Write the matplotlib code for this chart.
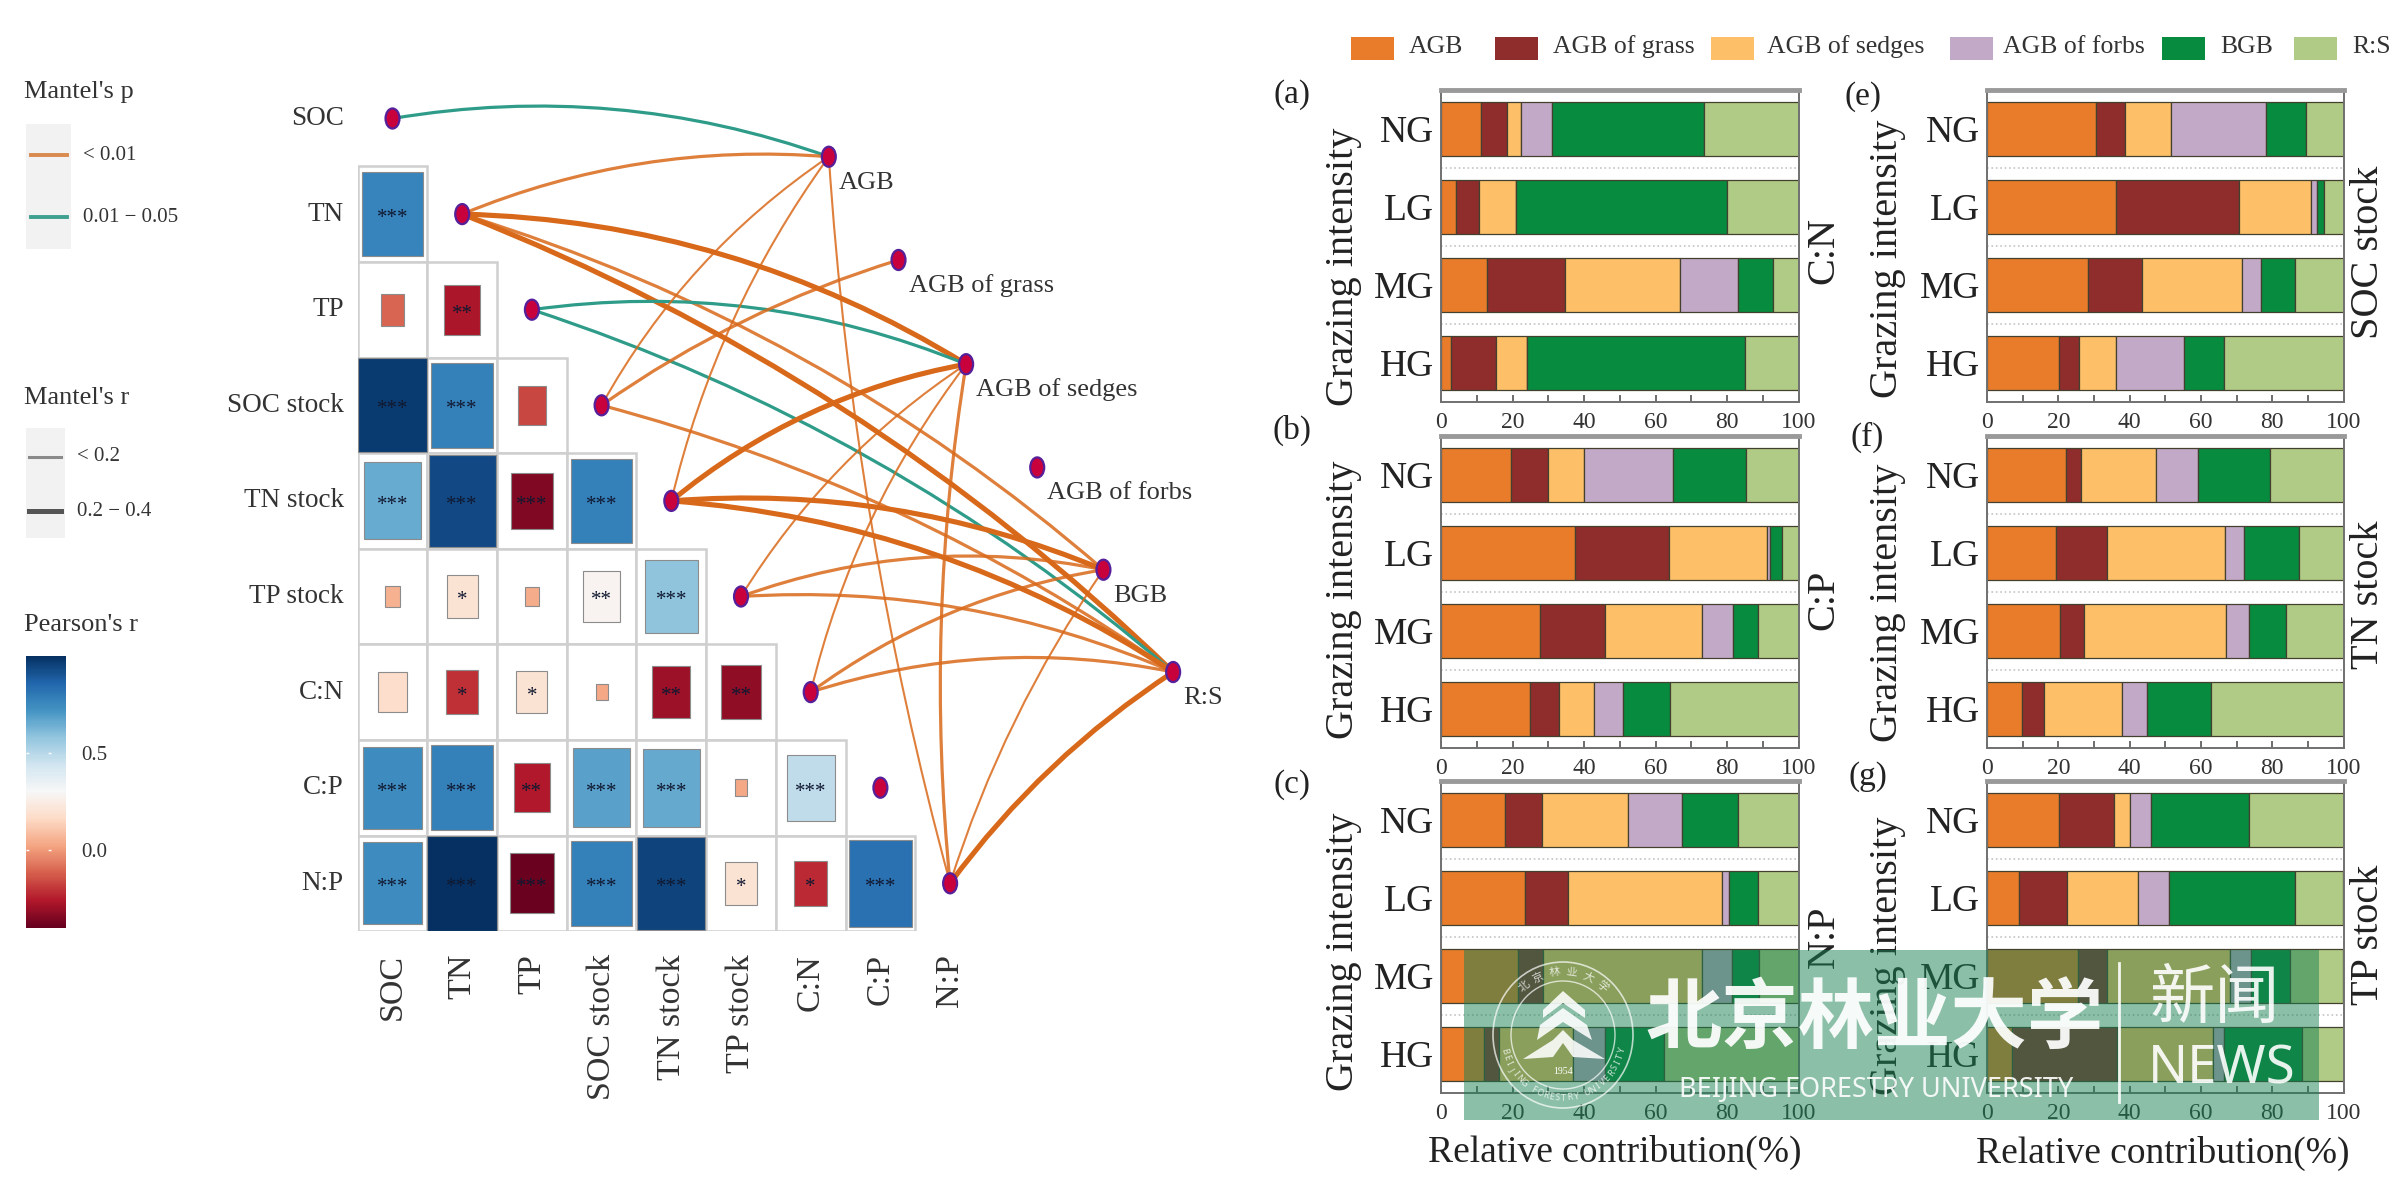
import numpy as np
import matplotlib
matplotlib.use('Agg')
import matplotlib.pyplot as plt
from matplotlib.cm import ScalarMappable
from matplotlib.colors import Normalize
from matplotlib.patches import Ellipse, PathPatch, Polygon, Rectangle
from matplotlib.path import Path

plt.rcParams['font.family'] = ['Liberation Serif', 'DejaVu Serif']

W, H = 2400, 1201

# correlation matrix (lower triangle, rows start at TN)
soil_vars = ['SOC', 'TN', 'TP', 'SOC stock', 'TN stock', 'TP stock', 'C:N', 'C:P', 'N:P']
pearson_r = [
    [0.77],
    [-0.11, -0.27],
    [0.97, 0.78, -0.17],
    [0.65, 0.93, -0.35, 0.78],
    [0.05, 0.20, 0.04, 0.28, 0.58],
    [0.17, -0.21, 0.20, 0.03, -0.30, -0.32],
    [0.74, 0.78, -0.26, 0.68, 0.66, 0.03, 0.48],
    [0.74, 1.00, -0.39, 0.78, 0.95, 0.20, -0.22, 0.82],
]
stars = [
    ['***'],
    ['', '**'],
    ['***', '***', ''],
    ['***', '***', '***', '***'],
    ['', '*', '', '**', '***'],
    ['', '*', '*', '', '**', '**'],
    ['***', '***', '**', '***', '***', '', '***'],
    ['***', '***', '***', '***', '***', '*', '*', '***'],
]

# mantel links: soil var, biomass var, p class, r class, bend
biomass_vars = ['AGB', 'AGB of grass', 'AGB of sedges', 'AGB of forbs', 'BGB', 'R:S']
biomass_x = [6.26, 7.26, 8.23, 9.25, 10.2, 11.2]
biomass_y = [0.40, 1.48, 2.57, 3.65, 4.72, 5.79]
links = [
    ('SOC', 'AGB', 'b', 'mid', 0.13),
    ('TN', 'AGB', 'a', 'mid', 0.12),
    ('TN', 'AGB of sedges', 'a', 'thick', 0.135),
    ('TN', 'BGB', 'a', 'mid', 0.105),
    ('TN', 'R:S', 'a', 'thick', 0.10),
    ('TP', 'AGB of sedges', 'b', 'mid', 0.135),
    ('TP', 'R:S', 'b', 'mid', 0.10),
    ('SOC stock', 'AGB', 'a', 'thin', 0.12),
    ('SOC stock', 'AGB of grass', 'a', 'mid', 0.08),
    ('SOC stock', 'R:S', 'a', 'mid', 0.09),
    ('TN stock', 'AGB', 'a', 'thin', 0.10),
    ('TN stock', 'AGB of sedges', 'a', 'thick', 0.13),
    ('TN stock', 'BGB', 'a', 'thick', 0.12),
    ('TN stock', 'R:S', 'a', 'thick', 0.13),
    ('TP stock', 'AGB of sedges', 'a', 'thin', 0.11),
    ('TP stock', 'BGB', 'a', 'mid', 0.14),
    ('TP stock', 'R:S', 'a', 'mid', 0.12),
    ('C:N', 'AGB of sedges', 'a', 'thin', 0.105),
    ('C:N', 'BGB', 'a', 'mid', 0.12),
    ('C:N', 'R:S', 'a', 'mid', 0.13),
    ('N:P', 'AGB', 'a', 'thin', 0.05),
    ('N:P', 'AGB of sedges', 'a', 'mid', 0.065),
    ('N:P', 'BGB', 'a', 'thin', 0.075),
    ('N:P', 'R:S', 'a', 'thick', 0.09),
]

# stacked bars
groups = ['NG', 'LG', 'MG', 'HG']
parts = ['AGB', 'AGB of grass', 'AGB of sedges', 'AGB of forbs', 'BGB', 'R:S']
part_colors = ['#E87C2B', '#8F2D2D', '#FDBF68', '#C3A9C8', '#068B3F', '#B0CB85']
panel_a = [[11.2, 7.4, 3.8, 8.6, 42.7, 26.3], [4.1, 6.5, 10.3, 0, 59, 20.1],
           [13, 21.8, 32.1, 16.1, 10, 7], [2.7, 12.6, 8.7, 0, 60.9, 15.1]]
panel_b = [[19.7, 10.3, 10, 25, 20.3, 14.7], [37.5, 26.3, 27.3, 0.9, 3.4, 4.6],
           [27.7, 18.3, 26.9, 8.7, 7.2, 11.2], [25, 8.1, 9.8, 8, 13.1, 36]]
panel_c = [[17.8, 10.4, 24, 15.3, 15.7, 16.8], [23.6, 11.8, 43.3, 1.8, 8.3, 11.2],
           [21.4, 7.1, 44.6, 8.4, 7.5, 11], [12.1, 4, 20.9, 9, 16.3, 37.7]]
panel_e = [[30.7, 8.1, 12.7, 26.9, 11.2, 10.4], [36.3, 34.4, 20.2, 1.6, 2.1, 5.4],
           [28.4, 15.2, 28, 5.2, 9.7, 13.5], [20.1, 5.6, 10.6, 18.9, 11.2, 33.6]]
panel_f = [[22.2, 4.1, 21, 12, 20, 20.7], [19.3, 14.5, 33, 5.4, 15.4, 12.4],
           [20.5, 6.7, 39.8, 6.4, 10.4, 16.2], [9.8, 6.2, 21.8, 7, 18.1, 37.1]]
panel_g = [[20.1, 15.4, 4.5, 5.9, 27.6, 26.5], [8.9, 13.5, 19.9, 8.7, 35.3, 13.7],
           [25.4, 8.4, 34.5, 5.7, 10.9, 15.1], [6.9, 29.7, 26.8, 3.2, 21.7, 11.7]]


def px_axes(left, top, right, bottom, **kw):
    return fig.add_axes([left / W, 1 - bottom / H, (right - left) / W, (bottom - top) / H], **kw)


fig = plt.figure(figsize=(24, 12.01), dpi=100)

# ---- correlogram ----
sx, sy = 69.7, 95.6
ax = px_axes(392.5 - 0.5 * sx, 118.5 - sy, 392.5 + 12 * sx, 118.5 + 8.5 * sy)
ax.set_xlim(-0.5, 12)
ax.set_ylim(8.5, -1)
ax.axis('off')
cmap = plt.get_cmap('RdBu')
norm = Normalize(-0.4, 1.0)

for i, row in enumerate(pearson_r):
    r_row = i + 1
    for c, val in enumerate(row):
        ax.add_patch(Rectangle((c - 0.5, r_row - 0.5), 1, 1, fc='white', ec='#cfcfcf', lw=1.8, zorder=1))
        side = np.sqrt(abs(val))
        ax.add_patch(Rectangle((c - side / 2, r_row - side / 2), side, side, fc=cmap(norm(val)),
                               ec='#8c8c8c', lw=0.8, zorder=2))
        if stars[i][c]:
            ax.text(c, r_row + 0.045, stars[i][c], ha='center', va='center', fontsize=15,
                    color='#101830', zorder=3)

for i, name in enumerate(soil_vars):
    ax.text(-0.7, i, name, ha='right', va='center', fontsize=19.5, color='#333333')
    ax.text(i, 8.74, name, ha='center', va='top', rotation=90, fontsize=24.5, color='#333333')

p_colors = {'a': '#D9691A', 'b': '#2F9C8A'}
r_widths = {'thin': 1.5, 'mid': 2.3, 'thick': 3.7}
for soil, bio, p_cls, r_cls, bend in links:
    x0, y0 = soil_vars.index(soil), soil_vars.index(soil)
    b = biomass_vars.index(bio)
    x1, y1 = biomass_x[b], biomass_y[b]
    dx, dy = (x1 - x0) * sx, (y1 - y0) * sy
    cx = (x0 + x1) / 2 + bend * dy / sx
    cy = (y0 + y1) / 2 - bend * dx / sy
    path = Path([(x0, y0), (cx, cy), (x1, y1)], [Path.MOVETO, Path.CURVE3, Path.CURVE3])
    line_alpha = 0.85 if (p_cls == 'a' and r_cls != 'thick') else 1.0
    ax.add_patch(PathPatch(path, fc='none', ec=p_colors[p_cls], lw=r_widths[r_cls], zorder=4,
                           capstyle='round', alpha=line_alpha))

node_x = list(range(len(soil_vars))) + biomass_x
node_y = list(range(len(soil_vars))) + biomass_y
for x, y in zip(node_x, node_y):
    ax.add_patch(Ellipse((x, y), 0.2, 0.21, fc='#C8003C', ec='#55209A', lw=1.6, zorder=5))

for name, x, y in zip(biomass_vars, biomass_x, biomass_y):
    ax.text(x + 0.145, y + 0.27, name, ha='left', va='center', fontsize=19, color='#333333')

# ---- colour bar ----
cax = px_axes(26, 655.5, 66, 927.6)
cb = fig.colorbar(ScalarMappable(norm=norm, cmap=cmap), cax=cax)
cb.set_ticks([0.0, 0.5], labels=['0.0', '0.5'])
cb.outline.set_visible(False)
cb.ax.tick_params(length=0, labelsize=15, labelcolor='#333333', pad=11)
for v in [0.0, 0.5]:
    cax.plot([0, 1], [v, v], transform=cax.get_yaxis_transform(), color='white', lw=1, ls=(0, (2, 14)))

# ---- stacked bar panels ----
panel_boxes = [
    (panel_a, 1441, 90, 1798.5, 402),
    (panel_b, 1441, 436, 1798.5, 748),
    (panel_c, 1441, 781, 1798.5, 1093),
    (panel_e, 1987, 90, 2343.5, 402),
    (panel_f, 1987, 436, 2343.5, 748),
    (panel_g, 1987, 781, 2343.5, 1093),
]
for values, left, top, right, bottom in panel_boxes:
    pax = px_axes(left, top, right, bottom)
    vals = np.array(values)
    lefts = np.zeros(len(groups))
    for j, part in enumerate(parts):
        pax.barh(groups, vals[:, j], left=lefts, height=0.69, color=part_colors[j],
                 edgecolor='#44402f', linewidth=0.9)
        lefts += vals[:, j]
    pax.set_xlim(0, 100)
    pax.set_ylim(3.5, -0.5)
    for y in [0.5, 1.5, 2.5]:
        pax.axhline(y, color='#c4c4c4', lw=1.2, ls=':')
    pax.set_xticks(range(0, 101, 20))
    pax.set_xticks(range(10, 100, 20), minor=True)
    pax.tick_params(axis='x', which='both', direction='in', length=5, width=1.2, color='#555555',
                    labelsize=17, labelcolor='#333333', pad=7)
    pax.tick_params(axis='y', length=0, labelsize=27, labelcolor='#222222', pad=5)
    for side in pax.spines.values():
        side.set_color('#707070')
        side.set_linewidth(1.4)
    pax.spines['top'].set_color('#999999')
    pax.spines['top'].set_linewidth(3.5)

# ---- everything placed on the page ----
pg = px_axes(0, 0, W, H, zorder=5)
pg.set_xlim(0, W)
pg.set_ylim(H, 0)
pg.axis('off')
pg.patch.set_alpha(0)

# left legends
pg.text(24, 92, "Mantel's p", fontsize=19, va='center', color='#333333')
pg.add_patch(Rectangle((26, 123.5), 45, 125.5, fc='#f2f2f2', ec='none'))
pg.plot([31, 67], [155, 155], color='#D98A4E', lw=2.8)
pg.plot([31, 67], [217, 217], color='#3FA08F', lw=2.8)
pg.text(83, 155, '< 0.01', fontsize=15, va='center', color='#333333')
pg.text(83, 217, '0.01 − 0.05', fontsize=15, va='center', color='#333333')

pg.text(24, 398, "Mantel's r", fontsize=19, va='center', color='#333333')
pg.add_patch(Rectangle((26, 428), 39, 110, fc='#f2f2f2', ec='none'))
pg.plot([29, 61], [456.5, 456.5], color='#8a8a8a', lw=2.2)
pg.plot([29, 61], [511, 511], color='#555555', lw=3.6)
pg.text(77, 456.5, '< 0.2', fontsize=15, va='center', color='#333333')
pg.text(77, 511, '0.2 − 0.4', fontsize=15, va='center', color='#333333')

pg.text(24, 625, "Pearson's r", fontsize=19, va='center', color='#333333')

# top legend
key_lefts = [1351, 1495, 1711, 1950, 2162, 2294]
text_lefts = [1409, 1553, 1767, 2003, 2220, 2352]
for name, col, kx, tx in zip(parts, part_colors, key_lefts, text_lefts):
    pg.add_patch(Rectangle((kx, 37), 43, 23, fc=col, ec='none'))
    pg.text(tx, 47, name, fontsize=18.5, va='center', color='#333333')

# panel letters
letters = ['(a)', '(b)', '(c)', '(e)', '(f)', '(g)']
letter_x = [1292, 1292, 1292, 1863, 1867, 1868]
letter_y = [95, 430, 785, 97, 437, 777]
for s, x, y in zip(letters, letter_x, letter_y):
    pg.text(x, y, s, fontsize=24, ha='center', va='center', color='#222222')

# side titles
gi_x = [1343, 1343, 1343, 1887, 1887, 1887]
gi_y = [267, 600, 952, 259, 603, 956]
for x, y in zip(gi_x, gi_y):
    pg.text(x, y, 'Grazing intensity', fontsize=29, rotation=90, ha='center', va='center', color='#222222')
mid_titles = ['C:N', 'C:P', 'N:P']
mid_y = [250, 600, 937]
for s, y in zip(mid_titles, mid_y):
    pg.text(1824, y, s, fontsize=29, rotation=90, ha='center', va='center', color='#222222')
right_titles = ['SOC stock', 'TN stock', 'TP stock']
right_y = [252, 595, 935]
for s, y in zip(right_titles, right_y):
    pg.text(2368, y, s, fontsize=29, rotation=90, ha='center', va='center', color='#222222')

pg.text(1615, 1152, 'Relative contribution(%)', fontsize=27, ha='center', va='center', color='#222222')
pg.text(2163, 1153, 'Relative contribution(%)', fontsize=27, ha='center', va='center', color='#222222')

# news watermark on top of the chart
pg.add_patch(Rectangle((1464, 950), 855, 170, fc=(24 / 255, 128 / 255, 82 / 255), ec='none', alpha=0.5, zorder=10))
cjk = ['Noto Sans CJK SC', 'DejaVu Sans']
pg.text(1875, 1019, '北京林业大学', fontsize=55, ha='center', va='center', color='white', family=cjk,
        fontweight='bold', alpha=0.93, zorder=11)
pg.text(2215, 1000, '新闻', fontsize=47, ha='center', va='center', color='white', family=cjk, alpha=0.9, zorder=11)
pg.text(2222, 1070, 'NEWS', fontsize=38, ha='center', va='center', color='white', family='Noto Sans', alpha=0.9, zorder=11)
pg.text(1876, 1090, 'BEIJING FORESTRY UNIVERSITY', fontsize=19.5, ha='center', va='center', color='white',
        family='Noto Sans', alpha=0.9, zorder=11)
pg.plot([2119, 2119], [963, 1102], color='white', lw=2, alpha=0.9, zorder=11)

# seal
seal_x, seal_y = 1563, 1035
pg.add_patch(Ellipse((seal_x, seal_y), 140, 146, fc='none', ec='white', lw=1.2, alpha=0.7, zorder=11))
pg.add_patch(Ellipse((seal_x, seal_y), 104, 108, fc='none', ec='white', lw=1, alpha=0.7, zorder=11))
tree = [
    [(1543, 1010), (1563, 991), (1585, 1010), (1585, 1018), (1563, 1003), (1543, 1018)],
    [(1540, 1025), (1563, 1008), (1587, 1025), (1592, 1040), (1563, 1022), (1537, 1040)],
    [(1523, 1059), (1553, 1040), (1563, 1030), (1573, 1040), (1605, 1059), (1573, 1057),
     (1563, 1043), (1553, 1057)],
]
for pts in tree:
    pg.add_patch(Polygon(pts, closed=True, fc='white', ec='none', alpha=0.88, zorder=11))
pg.text(seal_x, 1071, '1954', fontsize=7, ha='center', va='center', color='white', zorder=11)
for k, ch in enumerate('北京林业大学'):
    ang = np.radians(130 - k * 16)
    pg.text(seal_x + 61 * np.cos(ang), seal_y - 63 * np.sin(ang), ch, fontsize=8, family=cjk, color='white',
            ha='center', va='center', rotation=np.degrees(ang) - 90, alpha=0.75, zorder=11)
for k, ch in enumerate('BEIJING FORESTRY UNIVERSITY'):
    ang = np.radians(195 + k * 5.8)
    pg.text(seal_x + 61 * np.cos(ang), seal_y - 63 * np.sin(ang), ch, fontsize=6.5, family='Noto Sans', color='white',
            ha='center', va='center', rotation=np.degrees(ang) + 90, alpha=0.75, zorder=11)

fig.savefig('out.png', dpi=100)
